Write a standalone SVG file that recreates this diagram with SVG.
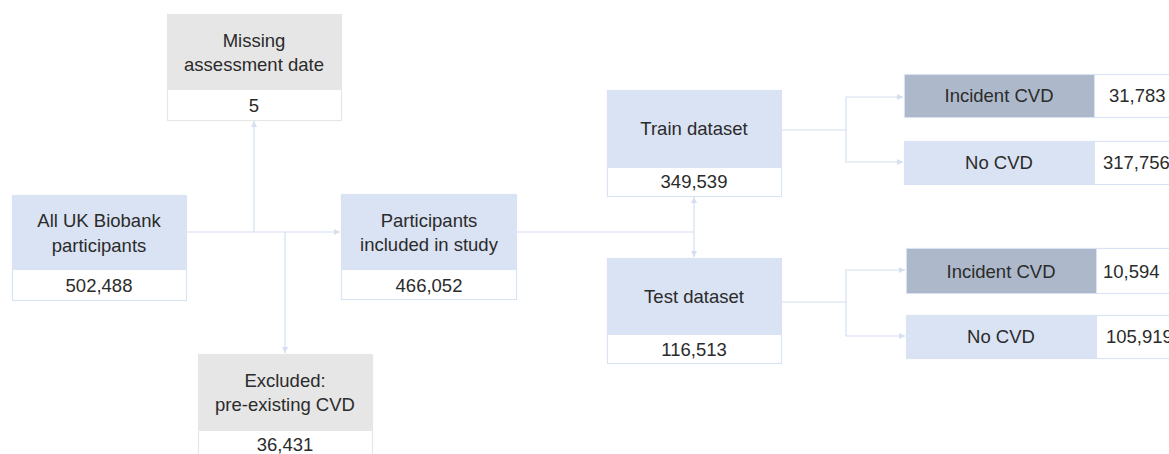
<svg xmlns="http://www.w3.org/2000/svg" width="1169" height="454" viewBox="0 0 1169 454">
<defs>
<style>
.t{font-family:"Liberation Sans",Arial,sans-serif;font-size:18.5px;fill:#2B2B2B;text-anchor:middle}
.ts{font-family:"Liberation Sans",Arial,sans-serif;font-size:18.5px;fill:#2B2B2B}
.blue{fill:#DAE3F3;stroke:#DAE3F3;stroke-width:1}
.gray{fill:#E6E6E6;stroke:#E6E6E6;stroke-width:1}
.dark{fill:#ADB9CA;stroke:#DAE3F3;stroke-width:1}
.white{fill:#FFFFFF;stroke:#DAE3F3;stroke-width:1.2}
.wgray{fill:#FFFFFF;stroke:#E6E6E6;stroke-width:1.2}
.c{fill:none;stroke:#D6DFEF;stroke-width:1.2}
</style>
<marker id="ah" viewBox="0 0 10 10" refX="10" refY="5" markerWidth="5" markerHeight="5" orient="auto">
<path d="M0,0 L10,5 L0,10 z" fill="#D6DFEF"/>
</marker>
</defs>
<rect width="1169" height="454" fill="#FFFFFF"/>
<g id="connectors">
<path class="c" d="M186,232 H340" marker-end="url(#ah)"/>
<path class="c" d="M254,232 V121" marker-end="url(#ah)"/>
<path class="c" d="M285,232 V353" marker-end="url(#ah)"/>
<path class="c" d="M516,232 H694"/>
<path class="c" d="M694,232 V197" marker-end="url(#ah)"/>
<path class="c" d="M694,232 V257" marker-end="url(#ah)"/>
<path class="c" d="M781,130 H846 V97 H903" marker-end="url(#ah)"/>
<path class="c" d="M846,130 V162 H903" marker-end="url(#ah)"/>
<path class="c" d="M781,302 H846 V270 H905" marker-end="url(#ah)"/>
<path class="c" d="M846,302 V336 H905" marker-end="url(#ah)"/>
</g>
<g id="missing">
<rect class="wgray" x="167.5" y="14.5" width="174" height="106"/>
<rect class="gray" x="167.5" y="14.5" width="174" height="75"/>
<text class="t" x="254" y="47">Missing</text>
<text class="t" x="254" y="71">assessment date</text>
<text class="t" x="254" y="112">5</text>
</g>
<g id="all">
<rect class="white" x="12.5" y="195.5" width="174" height="105"/>
<rect class="blue" x="12.5" y="195.5" width="174" height="74"/>
<text class="t" x="99" y="227">All UK Biobank</text>
<text class="t" x="99" y="252">participants</text>
<text class="t" x="99" y="292">502,488</text>
</g>
<g id="excluded">
<rect class="wgray" x="198.5" y="354.5" width="174" height="104"/>
<rect class="gray" x="198.5" y="354.5" width="174" height="76"/>
<text class="t" x="285" y="387">Excluded:</text>
<text class="t" x="285" y="411">pre-existing CVD</text>
<text class="t" x="285" y="451">36,431</text>
</g>
<g id="participants">
<rect class="white" x="341.5" y="194.5" width="175" height="105"/>
<rect class="blue" x="341.5" y="194.5" width="175" height="75"/>
<text class="t" x="429" y="227">Participants</text>
<text class="t" x="429" y="251">included in study</text>
<text class="t" x="429" y="292">466,052</text>
</g>
<g id="train">
<rect class="white" x="607.5" y="90.5" width="174" height="106"/>
<rect class="blue" x="607.5" y="90.5" width="174" height="77"/>
<text class="t" x="694" y="135">Train dataset</text>
<text class="t" x="694" y="188">349,539</text>
</g>
<g id="test">
<rect class="white" x="607.5" y="258.5" width="174" height="105"/>
<rect class="blue" x="607.5" y="258.5" width="174" height="76"/>
<text class="t" x="694" y="303">Test dataset</text>
<text class="t" x="694" y="356">116,513</text>
</g>
<g id="train-incident">
<rect class="white" x="904.5" y="74.5" width="300" height="43"/>
<rect class="dark" x="904.5" y="74.5" width="190" height="43"/>
<text class="t" x="999" y="102">Incident CVD</text>
<text class="ts" x="1109" y="102">31,783</text>
</g>
<g id="train-nocvd">
<rect class="white" x="904.5" y="141.5" width="300" height="43"/>
<rect class="blue" x="904.5" y="141.5" width="190" height="43"/>
<text class="t" x="999" y="169">No CVD</text>
<text class="ts" x="1103" y="169">317,756</text>
</g>
<g id="test-incident">
<rect class="white" x="906.5" y="248.5" width="300" height="45"/>
<rect class="dark" x="906.5" y="248.5" width="190" height="45"/>
<text class="t" x="1001" y="278">Incident CVD</text>
<text class="ts" x="1103" y="278">10,594</text>
</g>
<g id="test-nocvd">
<rect class="white" x="906.5" y="315.5" width="300" height="43"/>
<rect class="blue" x="906.5" y="315.5" width="190" height="43"/>
<text class="t" x="1001" y="343">No CVD</text>
<text class="ts" x="1106" y="343">105,919</text>
</g>
</svg>
